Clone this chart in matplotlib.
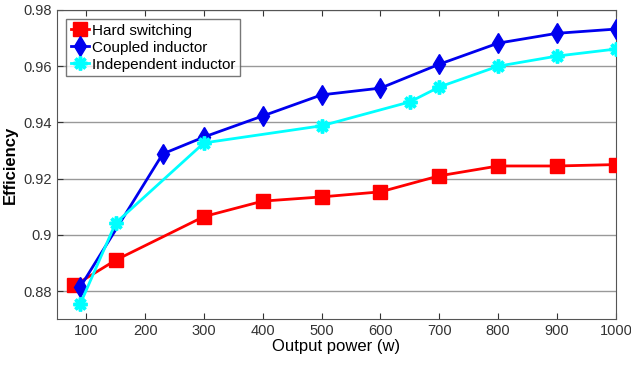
import matplotlib
matplotlib.use("Agg")
import matplotlib.pyplot as plt

plt.rcParams["font.family"] = ["Liberation Sans", "DejaVu Sans"]

# data
hard_x = [80, 150, 300, 400, 500, 600, 700, 800, 900, 1000]
hard_y = [0.882, 0.891, 0.9065, 0.912, 0.9135, 0.9153, 0.921, 0.9245, 0.9245, 0.925]

coupled_x = [90, 230, 300, 400, 500, 600, 700, 800, 900, 1000]
coupled_y = [0.8815, 0.9288, 0.9348, 0.9423, 0.9498, 0.9522, 0.9607, 0.9682, 0.9717, 0.9732]

indep_x = [90, 150, 300, 500, 650, 700, 800, 900, 1000]
indep_y = [0.8755, 0.9042, 0.9327, 0.9388, 0.9473, 0.9526, 0.960, 0.9636, 0.9661]

x_ticks = [100, 200, 300, 400, 500, 600, 700, 800, 900, 1000]
y_ticks = [0.88, 0.9, 0.92, 0.94, 0.96, 0.98]
y_tick_labels = ["0.88", "0.9", "0.92", "0.94", "0.96", "0.98"]

fig, ax = plt.subplots(figsize=(6.31, 3.69), dpi=100)
fig.subplots_adjust(left=0.09, right=0.976, top=0.973, bottom=0.135)

ax.plot(hard_x, hard_y, color="#ff0000", lw=2, marker="s", ms=10,
        label="Hard switching", zorder=3)
ax.plot(coupled_x, coupled_y, color="#0000ee", lw=2, marker="d", ms=10.5,
        label="Coupled inductor", zorder=4)
ax.plot(indep_x, indep_y, color="#00ffff", lw=2, marker=(8, 2, 0), ms=10,
        mew=2.5, label="Independent inductor", zorder=5)

ax.set_xlim(50, 1000)
ax.set_ylim(0.87, 0.98)
ax.set_xticks(x_ticks)
ax.set_yticks(y_ticks)
ax.set_yticklabels(y_tick_labels)
ax.tick_params(direction="in", top=True, right=False, labelsize=10.5,
               colors="#333333", length=4)
ax.yaxis.grid(True, color="#999999", lw=1)
ax.set_axisbelow(True)
for s in ax.spines.values():
    s.set_color("#555555")

ax.set_xlabel("Output power (w)", fontsize=12, labelpad=1)
ax.set_ylabel("Efficiency", fontsize=12, fontweight="bold", labelpad=4)

leg = ax.legend(loc="upper left", fontsize=11, frameon=True, fancybox=False,
                handlelength=1.2, handletextpad=0.2, borderpad=0.3,
                labelspacing=0.2, borderaxespad=0.6)
leg.get_frame().set_edgecolor("#555555")
leg.get_frame().set_linewidth(1)

fig.savefig("out.png", dpi=100)
